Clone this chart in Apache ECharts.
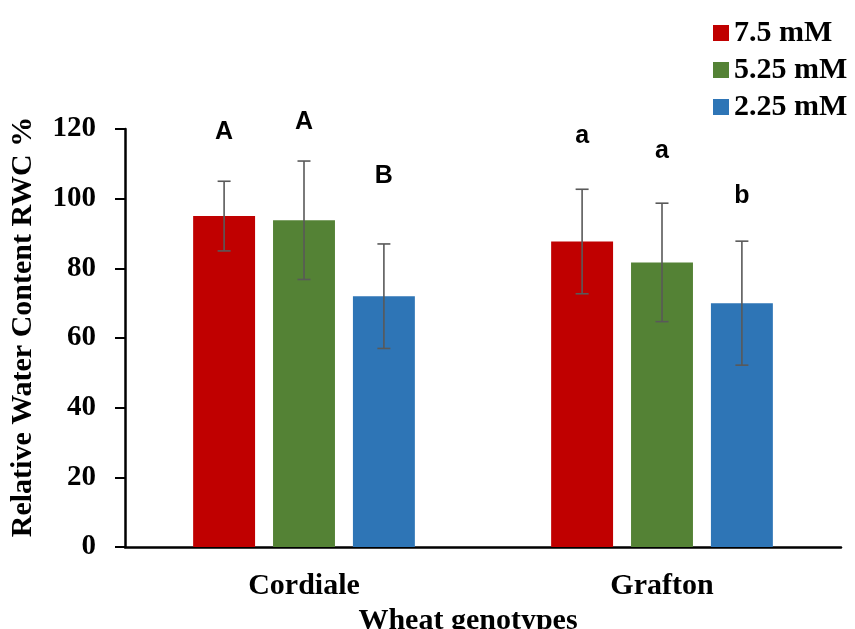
<!DOCTYPE html>
<html><head><meta charset="utf-8">
<script src="https://cdn.jsdelivr.net/npm/echarts@6/dist/echarts.min.js"></script>
<style>html,body{margin:0;padding:0;background:#fff}#c{width:855px;height:629px}</style>
</head><body><div id="c"></div>
<script>
const categories = ['Cordiale', 'Grafton'];
const seriesNames = ['7.5 mM', '5.25 mM', '2.25 mM'];
const values75 = [95, 87.7];
const values525 = [93.8, 81.7];
const values225 = [72, 70];
const err75 = [10, 15];
const err525 = [17, 17];
const err225 = [15, 17.8];
const letters75 = ['A', 'a'];
const letters525 = ['A', 'a'];
const letters225 = ['B', 'b'];
const letterY75 = [119, 118];
const letterY525 = [122, 113.7];
const letterY225 = [106.5, 100.8];
const yTicks = [0, 20, 40, 60, 80, 100, 120];

const colors = ['#C00000', '#548235', '#2E75B6'];
const vals = [values75, values525, values225];
const errs = [err75, err525, err225];
const lets = [letters75, letters525, letters225];
const letYs = [letterY75, letterY525, letterY225];

const BAR_W = 0.173, GAP = 0.29;
const errData = [];
for (let s = 0; s < 3; s++) for (let c = 0; c < categories.length; c++)
  errData.push([c, vals[s][c], errs[s][c], s, letYs[s][c], lets[s][c]]);

const serif = 'Liberation Serif';
const chart = echarts.init(document.getElementById('c'));
const option = {
  animation: false,
  color: colors,
  legend: {
    orient: 'vertical', left: 708, top: 13, itemGap: 7,
    itemWidth: 16, itemHeight: 16, icon: 'rect',
    textStyle: { fontFamily: serif, fontWeight: 'bold', fontSize: 30, color: '#000' },
    data: seriesNames
  },
  grid: { left: 125, right: 14, top: 129, bottom: 82, outerBoundsMode: 'none', containLabel: false },
  xAxis: {
    type: 'category', data: categories,
    axisLine: { lineStyle: { color: '#000', width: 2.5 } },
    axisTick: { show: false },
    axisLabel: { fontFamily: serif, fontWeight: 'bold', fontSize: 30, color: '#000', margin: 24 },
    name: 'Wheat genotypes', nameLocation: 'middle', nameGap: 50,
    nameTextStyle: { fontFamily: serif, fontWeight: 'bold', fontSize: 30, color: '#000', padding: [0, 30, 0, 0] }
  },
  yAxis: {
    type: 'value', min: 0, max: 120, interval: 20,
    splitLine: { show: false },
    axisLine: { show: true, lineStyle: { color: '#000', width: 2.5 } },
    axisTick: { show: true, length: 10, lineStyle: { color: '#000', width: 2 } },
    axisLabel: { fontFamily: serif, fontWeight: 'bold', fontSize: 29, color: '#000', margin: 29,
      formatter: v => yTicks.includes(v) ? String(v) : '' },
    name: 'Relative Water Content RWC %', nameLocation: 'middle', nameGap: 87,
    nameTextStyle: { fontFamily: serif, fontWeight: 'bold', fontSize: 30, color: '#000', padding: [0, 0, 0, 22] }
  },
  series: [
    ...seriesNames.map((n, s) => ({
      name: n, type: 'bar', data: vals[s], barWidth: (BAR_W * 100) + '%', barGap: (GAP * 100) + '%',
      barCategoryGap: '38%', itemStyle: { color: colors[s] }
    })),
    {
      type: 'custom', data: errData, z: 10,
      renderItem: function (params, api) {
        const c = api.value(0), m = api.value(1), e = api.value(2), s = api.value(3), ly = api.value(4);
        const band = api.size([1, 0])[0];
        const bw = band * BAR_W;
        const off = (s - 1) * bw * (1 + GAP);
        const top = api.coord([c, m + e]), bot = api.coord([c, m - e]), lp = api.coord([c, ly]);
        const x = top[0] + off, cap = 6.5;
        const st = { stroke: '#595959', lineWidth: 1.6 };
        return {
          type: 'group', children: [
            { type: 'line', shape: { x1: x, y1: top[1], x2: x, y2: bot[1] }, style: st },
            { type: 'line', shape: { x1: x - cap, y1: top[1], x2: x + cap, y2: top[1] }, style: st },
            { type: 'line', shape: { x1: x - cap, y1: bot[1], x2: x + cap, y2: bot[1] }, style: st },
            { type: 'text', x: x, y: lp[1], style: { text: errData[params.dataIndex][5], x: 0, y: 0,
              align: 'center', verticalAlign: 'middle', fill: '#000',
              font: 'bold 25px "Liberation Sans", Arial, sans-serif' } }
          ]
        };
      }
    }
  ]
};
chart.setOption(option);
</script></body></html>
